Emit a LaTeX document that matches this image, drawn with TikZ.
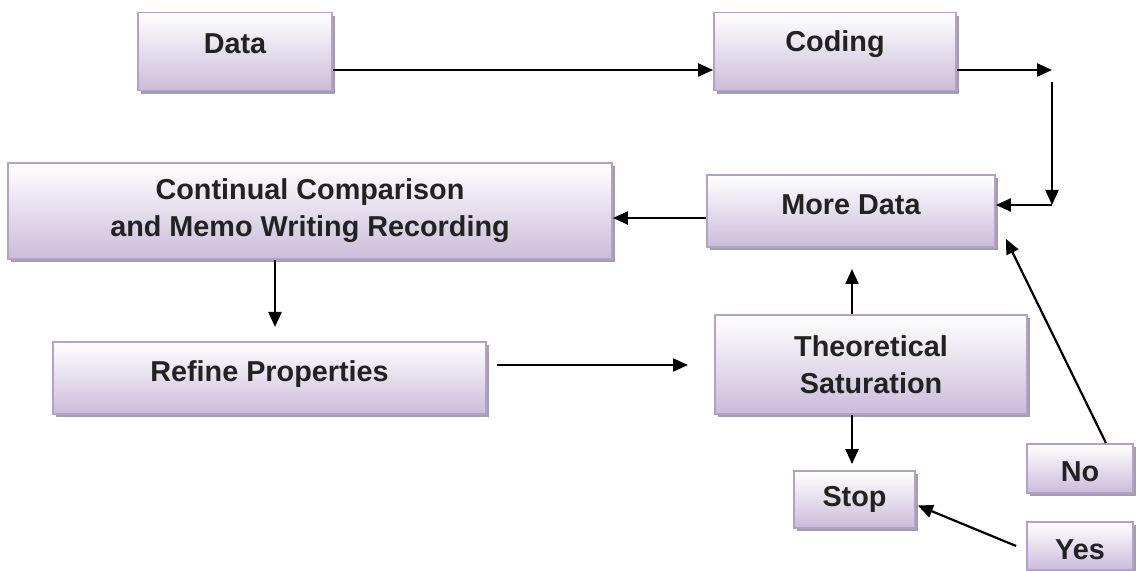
\documentclass[tikz,border=0pt]{standalone}
\usepackage{fontspec}
\setmainfont{Liberation Sans}
\usepackage{tikz}
\usetikzlibrary{arrows.meta}
\usetikzlibrary{shadows}
\definecolor{boxlav}{HTML}{CBBCDA}
\definecolor{boxedge}{HTML}{B3A0CB}
\definecolor{boxshade}{HTML}{A39EAB}
\definecolor{boxtext}{HTML}{222222}
\tikzset{box/.style={rectangle, draw=boxedge, line width=0.9pt,
    top color=white, bottom color=boxlav,
    drop shadow={shadow xshift=1.6pt, shadow yshift=-1.6pt, fill=boxshade, opacity=1},
    text=boxtext, font=\fontsize{14.4}{18.5}\selectfont\bfseries,
    align=center, inner sep=0pt}}
\tikzset{arr/.style={-{Triangle[length=7.5pt,width=6.5pt]}, line width=1.1pt}}
\tikzset{lift/.style={text height=9.5pt, text depth=#1}}
\tikzset{sink/.style={text height=13.5pt, text depth=0pt}}

\begin{document}
\begin{tikzpicture}[x=0.5pt,y=-0.5pt]
            \useasboundingbox (0,0) rectangle (1141,571);

                \node[box, minimum width=97pt, minimum height=39pt, lift=7.7pt] (data) at (235,51.5) {Data};
                \node[box, minimum width=121pt, minimum height=39pt, lift=9.7pt] (coding) at (835,51.5) {Coding};
                \node[box, minimum width=302pt, minimum height=48pt] (cmp) at (310,211) {Continual Comparison\\and Memo Writing Recording};
                \node[box, minimum width=144pt, minimum height=36pt, lift=5.7pt] (more) at (851,211) {More Data};
                \node[box, minimum width=216.5pt, minimum height=36pt, lift=5.7pt] (refine) at (269.5,378) {Refine Properties};
                \node[box, minimum width=156pt, minimum height=49.5pt] (theo) at (871,364.5) {Theoretical\\Saturation};
                \node[box, minimum width=60.5pt, minimum height=28.5pt] (stop) at (854.5,499.5) {Stop};
                \node[box, minimum width=53pt, minimum height=24.5pt, sink] (no) at (1080,468.5) {No};
                \node[box, minimum width=53pt, minimum height=24pt, sink] (yes) at (1080,546) {Yes};

                \coordinate (c1) at (1052,70);
                \coordinate (c2) at (1052,82);
                \coordinate (c3) at (1052,205);
                \coordinate (c4) at (275,327);
                \coordinate (r1) at (497,365);
                \coordinate (r2) at (688,365);
                \coordinate (t1) at (852,269);

                \draw[arr] ([yshift=-9.25pt]data.east) -- ([yshift=-9.25pt]coding.west);
                \draw[arr] ([yshift=-9.25pt]coding.east) -- (c1);
                \draw[arr] (c2) -- (c3);
                \draw[arr] (c3) -- ([yshift=3pt]more.east);
                \draw[arr] ([yshift=-3.5pt]more.west) -- ([yshift=-3.5pt]cmp.east);
                \draw[arr] (cmp.south -| c4) -- (c4);
                \draw[arr] (r1) -- (r2);
                \draw[arr] (theo.north -| t1) -- (t1);
                \draw[arr, shorten >=3pt] (theo.south -| t1) -- (stop.north -| t1);
                \draw[arr] ([xshift=13pt]no.north) -- ([shift={(10,-9)}]more.south east);
                \draw[arr] ([xshift=-5pt]yes.west) -- ([shift={(2,6)}]stop.east);

            \end{tikzpicture}
\end{document}
